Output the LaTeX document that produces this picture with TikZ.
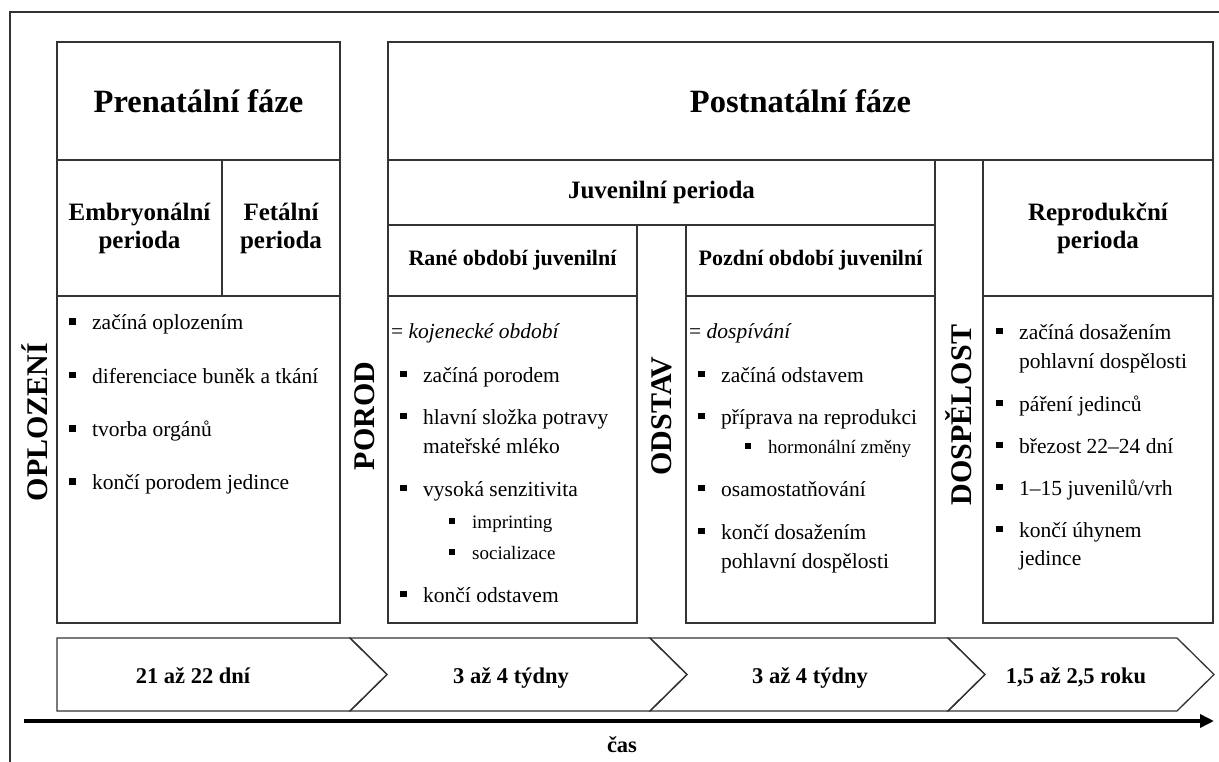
\documentclass[tikz,border=0pt]{standalone}
\usepackage{fontspec}
\setmainfont{Liberation Serif}
\usetikzlibrary{arrows.meta, positioning}

\newcommand{\sqbul}{\rule[5pt]{6.5pt}{6.5pt}}
\newcommand{\smbul}{\rule[4.5pt]{5.5pt}{5.5pt}}
\newcommand{\itm}[1]{\makebox[23pt][l]{\sqbul}#1}
\newcommand{\sitm}[1]{\makebox[23pt][l]{\smbul}#1}

\begin{document}
\begin{tikzpicture}[x=1pt, y=-1pt,
    cell/.style={draw=black!80, line width=1.3pt, inner sep=0pt, align=center,
      font=\bfseries\fontsize{25}{28}\selectfont},
    side/.style={rotate=90, inner sep=0pt, font=\bfseries\fontsize{30}{30}\selectfont},
    item/.style={anchor=base west, inner sep=0pt, font=\fontsize{21.5}{24}\selectfont},
    subitem/.style={anchor=base west, inner sep=0pt, font=\fontsize{19}{22}\selectfont},
    chev/.style={draw=black!80, line width=1.3pt},
    span/.style={anchor=base, inner sep=0pt, font=\bfseries\fontsize{22.5}{26}\selectfont}]
    \useasboundingbox (0,0) rectangle (1219,762);

    % outer frame (only top and left visible)
    \draw[black!80, line width=1.3pt] (10,762) -- (10,12) -- (1219,12);

    % prenatal phase
    \node[cell, minimum width=283, minimum height=118, font=\bfseries\fontsize{32.5}{36}\selectfont]
        (prehead) at (198.5,101) {Prenatální fáze};
    \node[cell, minimum width=165, minimum height=136] (embryo) at (139.5,228) {Embryonální\\perioda};
    \node[cell, minimum width=118, minimum height=136] (fetal) at (281,228) {Fetální\\perioda};
    \node[cell, minimum width=283, minimum height=327] (prebody) at (198.5,459.5) {};

    % postnatal phase
    \node[cell, minimum width=825, minimum height=118, font=\bfseries\fontsize{32.5}{36}\selectfont]
        (posthead) at (800.5,101) {Postnatální fáze};
    \node[cell, minimum width=547, minimum height=65] (juvhead) at (661.5,192.5) {Juvenilní perioda};
    \node[cell, minimum width=249, minimum height=71, font=\bfseries\fontsize{22}{26}\selectfont]
        (ranehead) at (512.5,260.5) {Rané období juvenilní};
    \node[cell, minimum width=249, minimum height=327] (ranebody) at (512.5,459.5) {};
    \node[cell, minimum width=249, minimum height=71, font=\bfseries\fontsize{22}{26}\selectfont]
        (pozdhead) at (810.5,260.5) {Pozdní období juvenilní};
    \node[cell, minimum width=249, minimum height=327] (pozdbody) at (810.5,459.5) {};
    \node[cell, minimum width=230, minimum height=136] (reprohead) at (1098,228) {Reprodukční\\perioda};
    \node[cell, minimum width=230, minimum height=327] (reprobody) at (1098,459.5) {};

    % events between the periods
    \node[side] (oploz) at (35,422) {OPLOZENÍ};
    \node[side] (porod) at (365,416) {POROD};
    \node[side] (odstav) at (661.5,416) {ODSTAV};
    \node[side] (dospel) at (959,415) {DOSPĚLOST};

    % prenatal list
    \foreach \t [count=\i] in {začíná oplozením, diferenciace buněk a tkání, tvorba orgánů, končí porodem jedince}
        \node[item] (pre\i) at (69,{330+53.3*(\i-1)}) {\itm{\t}};

    % early juvenile list
    \node[item] (ra0) at (391,338) {= \textit{kojenecké období}};
    \node[item] (ra1) at (400,382) {\itm{začíná porodem}};
    \node[item] (ra2) at (400,424) {\itm{hlavní složka potravy}};
    \node[item] (ra2b) at (423,453) {mateřské mléko};
    \node[item] (ra3) at (400,496) {\itm{vysoká senzitivita}};
    \node[subitem] (ra3a) at (449,528) {\sitm{imprinting}};
    \node[subitem] (ra3b) at (449,559) {\sitm{socializace}};
    \node[item] (ra4) at (400,602) {\itm{končí odstavem}};

    % late juvenile list
    \node[item] (po0) at (689,338) {= \textit{dospívání}};
    \node[item] (po1) at (698,382) {\itm{začíná odstavem}};
    \node[item] (po2) at (698,424) {\itm{příprava na reprodukci}};
    \node[subitem] (po2a) at (745,453) {\sitm{hormonální změny}};
    \node[item] (po3) at (698,496) {\itm{osamostatňování}};
    \node[item] (po4) at (698,539) {\itm{končí dosažením}};
    \node[item] (po4b) at (721,568) {pohlavní dospělosti};

    % reproductive list
    \node[item] (re1) at (996,339) {\itm{začíná dosažením}};
    \node[item] (re1b) at (1019,368) {pohlavní dospělosti};
    \node[item] (re2) at (996,411) {\itm{páření jedinců}};
    \node[item] (re3) at (996,453) {\itm{březost 22–24 dní}};
    \node[item] (re4) at (996,495) {\itm{1–15 juvenilů/vrh}};
    \node[item] (re5) at (996,537) {\itm{končí úhynem}};
    \node[item] (re5b) at (1019,565) {jedince};

    % time line
    \draw[chev] (57,638) -- (350,638) -- (387,674.5) -- (350,711) -- (57,711) -- cycle;
    \foreach \a/\b in {350/650, 650/948, 948/1177}
        \draw[chev] (\a,638) -- (\b,638) -- ({\b+37},674.5) -- (\b,711) -- (\a,711) -- ({\a+37},674.5) -- cycle;
    \node[span] (dur1) at (193,683) {21 až 22 dní};
    \node[span] (dur2) at (511,683) {3 až 4 týdny};
    \node[span] (dur3) at (810,683) {3 až 4 týdny};
    \node[span] (dur4) at (1076,683) {1,5 až 2,5 roku};

    \coordinate (axs) at (24,721);
    \coordinate (axe) at (1214,721);
    \draw[line width=4pt, -{Triangle[length=14pt, width=13pt]}] (axs) -- (axe);
    \node[span] (cas) at (622,752) {čas};
\end{tikzpicture}
\end{document}
